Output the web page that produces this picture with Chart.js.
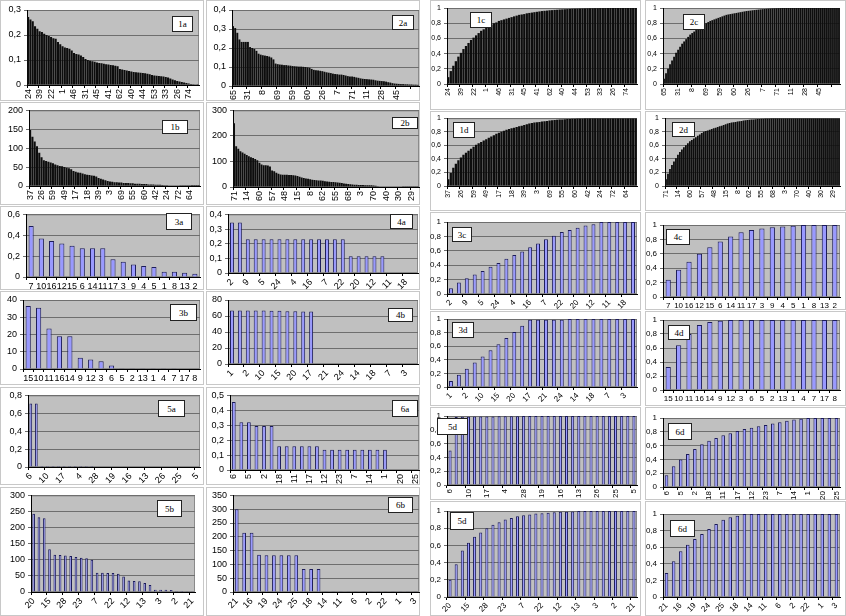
<!DOCTYPE html>
<html><head><meta charset="utf-8">
<script src="https://cdn.jsdelivr.net/npm/chart.js@4.4.0/dist/chart.umd.min.js"></script>
<style>
body{margin:0;background:#fff;width:846px;height:616px;position:relative;overflow:hidden;font-family:'Liberation Sans',Arial,sans-serif}
.panel{position:absolute;background:#fff;border:1px solid #c8c8c8;box-sizing:border-box}
canvas.ch{position:absolute}
.tag{position:absolute;background:#fff;border:1px solid #222;font-family:'Liberation Serif',serif;font-size:9px;display:flex;align-items:center;justify-content:center;box-sizing:border-box;color:#000}
</style></head><body>
<script>
// ---------- DATA ----------
// category (tick) labels
const L1a = ['24','39','22','1','46','31','45','41','62','40','44','53','33','26','74'];
const L2a = ['65','31','8','69','59','60','26','7','71','11','28','45'];
const L1b = ['37','26','59','49','17','18','39','3','69','55','60','42','24','72','64'];
const L2b = ['71','14','60','57','48','15','8','62','55','68','3','70','40','30','29'];
const C3a = ['7','10','16','12','15','6','14','11','17','3','9','4','5','1','8','13','2'];
const L4a = ['2','9','5','24','4','16','7','22','20','12','11','18'];
const C3b = ['15','10','11','16','14','9','12','3','6','5','2','13','1','4','7','17','8'];
const L4b = ['1','2','10','15','20','17','21','24','14','18','7','3'];
const L5a = ['6','10','17','4','28','19','16','13','26','25','5'];
const L6a = ['6','5','2','18','11','17','12','23','7','14','1','20','25'];
const L5b = ['20','15','28','23','7','22','12','13','3','2','21'];
const L6b = ['21','16','19','24','25','18','14','11','6','2','22','1','3'];

// series values
const V1a = [0.272,0.262,0.255,0.235,0.225, 0.215,0.212,0.205,0.200,0.196, 0.192,0.187,0.185,0.172,0.163,
 0.155,0.150,0.148,0.145,0.138, 0.128,0.124,0.122,0.118,0.112, 0.104,0.100,0.097,0.095,0.093,
 0.090,0.088,0.087,0.085,0.083, 0.082,0.080,0.079,0.077,0.075, 0.064,0.062,0.060,0.058,0.056,
 0.054,0.052,0.051,0.050,0.049, 0.048,0.047,0.045,0.043,0.040, 0.038,0.037,0.036,0.035,0.034,
 0.032,0.030,0.026,0.022,0.019, 0.016,0.014,0.012,0.010,0.008, 0.006,0.004,0.003,0.002,0.001];
const V1b = [148,130,118,105,88, 76,68,66,64,62, 60,57,55,53,52, 50,48,47,44,40, 38,36,35,33,31,
 30,29,28,27,25, 21,19,17,15,13, 12,11,10,10,9, 9,8,8,8,7, 7,6,6,6,5, 5,5,4,4,4,
 3,3,3,2.5,2, 2,1.5,1.5,1,1, 1,0.8,0.6,0.5,0.5, 0.4,0.3,0.3,0.2,0.2];
const V2a = [0.315,0.305,0.28,0.245,0.232,0.232,0.232, 0.232,0.205,0.2,0.195,0.185,0.17,0.165,
 0.162,0.16,0.158,0.155,0.15,0.14,0.118, 0.115,0.113,0.112,0.11,0.11,0.108,0.107,
 0.105,0.104,0.103,0.102,0.102,0.101,0.1, 0.098,0.096,0.09,0.085,0.083,0.082,0.08,
 0.078,0.075,0.072,0.07,0.068,0.065,0.063, 0.062,0.06,0.06,0.058,0.055,0.052,0.05,
 0.05,0.048,0.045,0.043,0.04,0.038,0.037, 0.036,0.035,0.034,0.033,0.03,0.028,0.027,
 0.026,0.025,0.023,0.02,0.018,0.015,0.013, 0.012,0.011,0.01,0.01,0.009,0.009,0.008,
 0.008,0.007,0.007,0.006];
const V2b = [250,160,150,140,135,130, 125,120,117,114,110,105, 95,88,85,85,84,80, 65,62,56,52,49,48,
 48,48,47,47,46,45, 43,40,37,35,33,32, 30,28,27,26,25,25, 24,23,22,21,20,20, 19,18,17,16,14,13,
 12,11,10,9,9,8, 8,8,7,7,7,7, 6,5,3,2,2,2, 2,2,2,1.5,1.5,1.5, 1.5,1.5,1,1,1,1, 1,1,1,1];
const V3a = [0.49,0.37,0.345,0.32,0.30,0.275,0.275,0.275,0.17,0.145,0.12,0.105,0.095,0.05,0.05,0.04,0.03];
const V4a = [0.345,0.345,0.23,0.23,0.23,0.23,0.23,0.23,0.23,0.23,0.23,0.23,0.23,0.23,0.23,
 0.115,0.115,0.115,0.115,0.115,0.003,0.003,0.003,0.003];
const V3b = [36.5,35.5,23.5,19,19,6.5,5.5,4.5,2,0.2,0.2,0.2,0.2,0.2,0.2,0,0];
const V4b = [67,67,67,67,67,66.5,66.5,66,66,65.5,65.5,0.5,0.5,0.5,0.5,0.5,0.5,0.5,0.5,0.5,0.5,0.5,0.5,0.5];
const V5a = [0.71,0.71,0.012,0.012,0.012,0.012,0.012,0.012,0.012,0.012,0.012,0.012,
 0.005,0.005,0.005,0.005,0.005,0.005,0.005,0.005,0.005,0.005,0.005,0.005,0.005,0.005,0.005,0.005,0,0,0];
const V6a = [0.455,0.32,0.32,0.295,0.295,0.295,0.16,0.16,0.16,0.16,0.16,0.16,
 0.135,0.135,0.135,0.135,0.135,0.135,0.135,0.135,0.135,0.003,0.003,0.003,0.003];
const V5b = [243,232,229,133,116,115,113,112,109,106,105,100,60,60,59,59,57,48,36,34,33,28,22,7,7,7,6,3,3,2,2];
const V6b = [300,215,215,135,133,133,133,133,133,83,83,83,1,1,1,1,1,1,1,1,1,1,1,1,1];

const V1c = [0.09,0.17,0.24,0.30,0.36,0.41,0.46,0.50,0.54,0.58,
 0.61,0.64,0.67,0.70,0.72,0.74,0.76,0.78,0.80,0.81,
 0.83,0.84,0.85,0.86,0.87,0.88,0.89,0.90,0.91,0.915,
 0.92,0.93,0.935,0.94,0.945,0.95,0.955,0.96,0.963,0.966,
 0.97,0.972,0.975,0.977,0.98,0.982,0.984,0.986,0.988,0.99,
 0.991,0.992,0.993,0.994,0.995,0.996,0.997,0.997,0.998,0.998,
 0.999,0.999,0.999,1,1,1,1,1,1,1, 1,1,1,1,1];
const V1d = [0.10,0.19,0.27,0.33,0.38,0.42,0.46,0.49,0.52,0.55,
 0.58,0.61,0.63,0.65,0.67,0.69,0.71,0.73,0.75,0.77,
 0.785,0.80,0.815,0.83,0.84,0.85,0.86,0.87,0.88,0.89,
 0.90,0.91,0.92,0.93,0.935,0.94,0.945,0.95,0.955,0.96,
 0.965,0.97,0.973,0.976,0.979,0.982,0.985,0.987,0.989,0.991,
 0.993,0.995,0.996,0.997,0.998,0.999,1,1,1,1,
 1,1,1,1,1,1,1,1,1,1, 1,1,1,1,1];
const V2c = [0.07,0.14,0.20,0.26,0.31,0.36,0.41,0.45,0.49,0.53,
 0.56,0.59,0.62,0.65,0.67,0.69,0.71,0.73,0.75,0.77,
 0.785,0.80,0.815,0.83,0.84,0.85,0.86,0.87,0.88,0.89,
 0.90,0.91,0.915,0.92,0.925,0.93,0.935,0.94,0.945,0.95,
 0.955,0.96,0.963,0.966,0.97,0.973,0.976,0.979,0.982,0.985,
 0.987,0.989,0.991,0.993,0.995,0.996,0.997,0.998,0.999,1,
 1,1,1,1,1,1,1,1,1,1, 1,1,1,1,1,1,1,1,1,1, 1,1,1,1,1,1,1,1];
const V2d = [0.10,0.18,0.25,0.31,0.36,0.41,0.46,0.50,0.54,0.57,
 0.60,0.63,0.66,0.68,0.70,0.72,0.74,0.76,0.78,0.80,
 0.81,0.82,0.83,0.84,0.85,0.86,0.87,0.88,0.89,0.90,
 0.91,0.92,0.93,0.935,0.94,0.945,0.95,0.955,0.96,0.965,
 0.97,0.973,0.976,0.979,0.982,0.985,0.987,0.989,0.991,0.993,
 0.995,0.996,0.997,0.998,0.999,1,1,1,1,1,
 1,1,1,1,1,1,1,1,1,1, 1,1,1,1,1,1,1,1,1,1, 1,1,1,1,1,1,1,1];
const V3c = [0.08,0.16,0.22,0.27,0.32,0.38,0.43,0.49,0.54,0.59,0.65,0.70,0.76,0.81,0.86,0.89,0.92,0.95,0.97,1,1,1,1,1];
const V4c = [0.24,0.38,0.49,0.60,0.69,0.77,0.84,0.90,0.93,0.95,0.97,0.98,0.99,1,1,1,1];
const V3d = [0.09,0.18,0.27,0.36,0.45,0.54,0.63,0.72,0.81,0.90,0.99,0.99,0.99,0.99,0.99,1,1,1,1,1,1,1,1,1];
const V4d = [0.33,0.64,0.80,0.93,0.97,0.99,1,1,1,1,1,1,1,1,1,1,1];
const V5d = [0.5,0.985,0.988,0.99,0.991,0.992,0.993,0.994,0.995,0.996,0.997,0.998,
 1,1,1,1,1,1,1,1,1,1,1,1,1,1,1,1,1,1,1];
const V6d = [0.17,0.30,0.40,0.48,0.55,0.62,0.67,0.71,0.75,0.78,0.81,0.84,0.86,0.88,0.90,0.92,0.94,0.96,0.98,0.99,1,1,1,1,1];
const V5d2 = [0.20,0.38,0.54,0.63,0.70,0.75,0.80,0.84,0.87,0.90,0.92,0.94,0.95,0.96,0.97,0.975,0.98,0.985,0.99,0.99,0.995,
 1,1,1,1,1,1,1,1,1,1];
const V6d2 = [0.29,0.43,0.55,0.63,0.70,0.76,0.82,0.88,0.93,0.96,0.98,1,1,1,1,1,1,1,1,1,1,1,1,1,1];

// ---------- LAYOUT ----------
const panels = [
 {tag:'1a', box:[0,0,204,101], plot:[27,10,199,85], lab:L1a, step:5, val:V1a, max:0.3, st:0.1, rot:90, kind:'dense', tb:[172,16,21,16]},
 {tag:'2a', box:[206,0,214,101], plot:[232,10,419,86], lab:L2a, step:7, val:V2a, max:0.4, st:0.1, rot:90, kind:'dense', tb:[392,15,22,15]},
 {tag:'1b', box:[0,102,204,103], plot:[29,110,200,186], lab:L1b, step:5, val:V1b, max:200, st:50, rot:90, kind:'dense', tb:[162,120,26,14]},
 {tag:'2b', box:[206,102,214,103], plot:[233,110,419,187], lab:L2b, step:6, val:V2b, max:300, st:100, rot:90, kind:'dense', tb:[392,117,26,12]},
 {tag:'3a', box:[0,206,204,84], plot:[26,211,200,277], lab:C3a, step:1, val:V3a, max:0.6, st:0.2, rot:0, kind:'bar', tb:[166,213,26,17]},
 {tag:'4a', box:[206,206,214,84], plot:[228,212,418,273], lab:L4a, step:2, val:V4a, max:0.4, st:0.1, rot:45, kind:'bar', tb:[390,214,23,15]},
 {tag:'3b', box:[0,291,204,94], plot:[23,300,200,369], lab:C3b, step:1, val:V3b, max:40, st:10, rot:0, kind:'bar', tb:[170,304,27,17]},
 {tag:'4b', box:[206,291,214,94], plot:[228,300,418,364], lab:L4b, step:2, val:V4b, max:80, st:20, rot:45, kind:'bar', tb:[388,308,25,14]},
 {tag:'5a', box:[0,387,204,98], plot:[28,394,200,467], lab:L5a, step:3, val:V5a, max:0.8, st:0.2, rot:45, kind:'bar', tb:[158,400,27,17]},
 {tag:'6a', box:[206,387,214,98], plot:[230,392,419,470], lab:L6a, step:2, val:V6a, max:0.5, st:0.1, rot:90, kind:'bar', tb:[392,400,26,17]},
 {tag:'5b', box:[0,487,204,129], plot:[31,495,195,592], lab:L5b, step:3, val:V5b, max:300, st:50, rot:45, kind:'bar', tb:[157,500,25,17]},
 {tag:'6b', box:[206,487,214,129], plot:[233,492,419,592], lab:L6b, step:2, val:V6b, max:350, st:50, rot:45, kind:'bar', tb:[388,497,25,16]},

 {tag:'1c', box:[430,0,211,110], plot:[447,8,637,84], lab:L1a, step:5, val:V1c, max:1, st:0.1, rot:90, kind:'dense', fs:7, tb:[470,12,22,16]},
 {tag:'2c', box:[645,0,201,110], plot:[663,8,840,84], lab:L2a, step:7, val:V2c, max:1, st:0.1, rot:90, kind:'dense', fs:7, tb:[683,14,22,16]},
 {tag:'1d', box:[430,111,211,100], plot:[447,117,637,186], lab:L1b, step:5, val:V1d, max:1, st:0.1, rot:90, kind:'dense', fs:7, tb:[453,122,22,16]},
 {tag:'2d', box:[645,111,201,100], plot:[665,117,840,186], lab:L2b, step:6, val:V2d, max:1, st:0.1, rot:90, kind:'dense', fs:7, tb:[672,122,23,15]},
 {tag:'3c', box:[430,212,211,98], plot:[447,222,637,294], lab:L4a, step:2, val:V3c, max:1, st:0.2, rot:45, kind:'bar', fs:8, tb:[452,227,20,15]},
 {tag:'4c', box:[645,212,201,98], plot:[663,225,840,297], lab:C3a, step:1, val:V4c, max:1, st:0.2, rot:0, kind:'bar', fs:8, tb:[666,229,24,16]},
 {tag:'3d', box:[430,311,211,95], plot:[447,319,637,387], lab:L4b, step:2, val:V3d, max:1, st:0.2, rot:45, kind:'bar', fs:8, tb:[452,322,22,16]},
 {tag:'4d', box:[645,311,201,95], plot:[663,320,840,390], lab:C3b, step:1, val:V4d, max:1, st:0.2, rot:0, kind:'bar', fs:8, tb:[668,325,22,15]},
 {tag:'5d', box:[430,407,211,93], plot:[447,416,637,485], lab:L5a, step:3, val:V5d, max:1, st:0.2, rot:90, kind:'bar', fs:8, tb:[437,418,31,17]},
 {tag:'6d', box:[645,407,201,93], plot:[663,418,840,487], lab:L6a, step:2, val:V6d, max:1, st:0.2, rot:90, kind:'bar', fs:8, tb:[668,423,24,17]},
 {tag:'5d', box:[430,501,211,115], plot:[447,511,637,597], lab:L5b, step:3, val:V5d2, max:1, st:0.2, rot:45, kind:'bar', fs:8, tb:[450,512,24,18]},
 {tag:'6d', box:[645,501,201,115], plot:[663,514,840,597], lab:L6b, step:2, val:V6d2, max:1, st:0.2, rot:45, kind:'bar', fs:8, tb:[670,520,25,17]}
];

function spread(labels, step, n){
  const out = [];
  for (let i = 0; i < n; i++) out.push(i % step === 0 && labels[i/step] !== undefined ? labels[i/step] : '');
  return out;
}
const fmt = v => String(Math.round(v*1000)/1000).replace('.', ',');

const bgPlugin = {id:'bg', beforeDraw(c){
  const a = c.chartArea, ctx = c.ctx;
  ctx.save(); ctx.fillStyle = '#c0c0c0'; ctx.fillRect(a.left, a.top, a.right-a.left, a.bottom-a.top);
  ctx.strokeStyle = '#8a8a8a'; ctx.lineWidth = 1; ctx.strokeRect(a.left+0.5, a.top+0.5, a.right-a.left-1, a.bottom-a.top-1);
  ctx.restore();
}};

panels.forEach(p => {
  const [x,y,w,h] = p.box;
  const [l,t,r,b] = p.plot;
  const d = document.createElement('div'); d.className='panel';
  Object.assign(d.style,{left:x+'px',top:y+'px',width:w+'px',height:h+'px'});
  document.body.appendChild(d);
  const cv = document.createElement('canvas'); cv.className='ch';
  cv.width = w; cv.height = h; Object.assign(cv.style,{left:x+'px',top:y+'px',width:w+'px',height:h+'px'});
  document.body.appendChild(cv);
  const n = p.val.length;
  const labels = p.step === 1 ? p.lab : spread(p.lab, p.step, n);
  const fs = p.fs || 9;
  const dense = p.kind === 'dense';
  new Chart(cv, {
    type:'bar',
    data:{labels, datasets:[{data:p.val,
      backgroundColor: dense ? '#0d0d0d' : '#9999ff',
      borderColor: dense ? '#0d0d0d' : '#1c1c5a',
      borderWidth: dense ? 0 : 1,
      categoryPercentage:1, barPercentage: dense ? 0.9 : 0.5}]},
    options:{
      responsive:false, animation:false, events:[], devicePixelRatio:1,
      layout:{padding:{top:t-y, right:(x+w)-r, left:0, bottom:0}},
      plugins:{legend:{display:false}, tooltip:{enabled:false}},
      scales:{
        x:{
          grid:{display:true, drawOnChartArea:false, tickLength:3, offset:true,
            color: c => (c.index % p.step === 0 ? '#000' : 'rgba(0,0,0,0)')},
          border:{display:true, color:'#000'},
          ticks:{autoSkip:false, maxRotation:p.rot, minRotation:p.rot, padding:1,
            font:{size:fs, family:'Liberation Sans'}, color:'#000'},
          afterFit: s => { s.height = (y+h) - b; s.paddingLeft = 0; s.paddingRight = 0; }
        },
        y:{
          min:0, max:p.max,
          ticks:{stepSize:p.st, callback:v => fmt(v), padding:3, font:{size:fs, family:'Liberation Sans'}, color:'#000'},
          grid:{color:'#6e6e6e', tickLength:3},
          border:{display:true, color:'#000'},
          afterFit: s => { s.width = l - x; }
        }
      }
    },
    plugins:[bgPlugin]
  });
  const tg = document.createElement('div'); tg.className='tag'; tg.textContent = p.tag;
  const [tx,ty,tw,th] = p.tb;
  Object.assign(tg.style,{left:tx+'px',top:ty+'px',width:tw+'px',height:th+'px'});
  document.body.appendChild(tg);
});
</script>
</body></html>
